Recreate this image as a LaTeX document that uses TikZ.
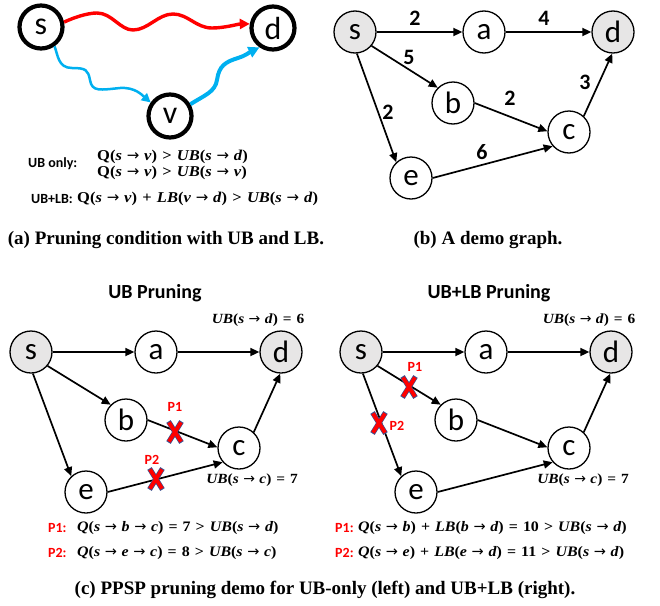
\documentclass[tikz,border=0pt]{standalone}
\usepackage{fontspec}
\setmainfont{Liberation Serif}
\newfontfamily\carl{Carlito}
\newfontfamily\djv{DejaVu Sans}
\newfontfamily\mfont[FakeStretch=1.1]{Liberation Serif}
\usetikzlibrary{arrows.meta}
\definecolor{gfill}{HTML}{E7E6E6}
\definecolor{wred}{HTML}{FF0000}
\definecolor{wblue}{HTML}{00B0F0}
\definecolor{xblue}{HTML}{3A4F8F}
\newcommand\mv[1]{\textit{#1}}
\newcommand\pto{\hspace{0.32em}{\djv\mdseries\char"2192}\hspace{0.32em}}
\newcommand\rel[1]{\hspace{0.35em}#1\hspace{0.35em}}
\begin{document}
\begin{tikzpicture}[x=1pt,y=-1pt,
  vnode/.style={circle,draw,line width=1.3pt,minimum size=42pt,inner sep=0pt,font=\carl\fontsize{31}{31}\selectfont},
  src/.style={vnode,fill=gfill},
  bignode/.style={circle,draw,line width=4.2pt,minimum size=43pt,inner sep=0pt,font=\carl\fontsize{32}{32}\selectfont},
  arr/.style={-{Triangle[length=9pt,width=8pt]},line width=1.7pt},
  wlabel/.style={font=\carl\bfseries\fontsize{22}{22}\selectfont},
  ptitle/.style={font=\carl\bfseries\fontsize{20}{20}\selectfont},
  plabel/.style={text=wred,font=\carl\bfseries\fontsize{14}{14}\selectfont,inner sep=0pt},
  ublbl/.style={font=\mfont\bfseries\fontsize{14}{16}\selectfont,inner sep=0pt},
  condlbl/.style={font=\carl\bfseries\fontsize{14}{14}\selectfont,inner sep=0pt},
  condmath/.style={font=\mfont\bfseries\fontsize{15}{17}\selectfont,inner sep=0pt},
  botmath/.style={font=\mfont\bfseries\fontsize{14.5}{16}\selectfont,inner sep=0pt},
  captxt/.style={font=\bfseries\fontsize{19}{21}\selectfont,inner sep=0pt},
  crossx/.pic={
    \draw[line width=5.2pt,xblue] (-6.5,-10.5)--(6.5,10.5) (6.5,-10.5)--(-6.5,10.5);
    \draw[line width=3.8pt,wred] (-6,-9.6)--(6,9.6) (6,-9.6)--(-6,9.6);
  }]
\useasboundingbox (0,0) rectangle (660,605);

% ---------- (a) ----------
\node[bignode] (as) at (41,27) {s};
\node[bignode] (ad) at (273,28) {d};
\node[bignode] (av) at (170,116) {v};
\draw[wred,line width=3.4pt,-{Triangle[length=10pt,width=10pt]}]
  (as.12) .. controls (75,17) and (88,13) .. (97,13)
  .. controls (112,13) and (120,30) .. (133,30)
  .. controls (148,30) and (158,14) .. (173,14)
  .. controls (188,14) and (196,28) .. (212,28)
  .. controls (225,28) and (238,24) .. (ad.170);
\draw[wblue,line width=2.5pt,-{Triangle[length=9pt,width=9pt]}]
  (as.-55) .. controls (58,55) and (58,68) .. (72,68)
  .. controls (86,68) and (88,70) .. (90,80)
  .. controls (92,92) and (100,90) .. (120,88)
  .. controls (135,87) and (142,95) .. (av.145);
\draw[wblue,line width=4pt,-{Triangle[length=11pt,width=11pt]}]
  (av.30) .. controls (205,95) and (215,92) .. (217,80)
  .. controls (219,66) and (225,62) .. (238,58)
  .. controls (245,56) and (250,52) .. (ad.-125);
\node[condlbl,anchor=west] (uo) at (28,164) {UB only:};
\node[condmath,anchor=west] (c1) at (97,157) {Q(\mv{s}\pto\mv{v})\rel{>}\mv{UB}(\mv{s}\pto\mv{d})};
\node[condmath,anchor=west] (c2) at (97,173) {Q(\mv{s}\pto\mv{v})\rel{>}\mv{UB}(\mv{s}\pto\mv{v})};
\node[condlbl,anchor=west] (ul) at (31,199) {UB+LB:};
\node[condmath,anchor=west] (c3) at (77,199) {Q(\mv{s}\pto\mv{v})\rel{+}\mv{LB}(\mv{v}\pto\mv{d})\rel{>}\mv{UB}(\mv{s}\pto\mv{d})};
\node[captxt] (capa) at (166,240) {(a) Pruning condition with UB and LB.};

% ---------- (b) ----------
\node[src] (bs) at (355,32) {s};
\node[vnode] (ba) at (484,32) {a};
\node[src] (bd) at (613,32) {d};
\node[vnode] (bb) at (453,103) {b};
\node[vnode] (bc) at (569,132) {c};
\node[vnode] (be) at (411,178) {e};
\draw[arr] (bs) -- (ba);
\draw[arr] (ba) -- (bd);
\draw[arr] (bs.-40) -- (bb.135);
\draw[arr] (bs.-85) -- (be.133);
\draw[arr] (bb.0) -- (bc.178);
\draw[arr] (be.0) -- (bc.221);
\draw[arr] (bc.47) -- (bd.-92);
\node[wlabel] (w1) at (415,18) {2};
\node[wlabel] (w2) at (544,18) {4};
\node[wlabel] (w3) at (409,57) {5};
\node[wlabel] (w4) at (510,98) {2};
\node[wlabel] (w5) at (585,82) {3};
\node[wlabel] (w6) at (388,112) {2};
\node[wlabel] (w7) at (482,152) {6};
\node[captxt] (capb) at (488,240) {(b) A demo graph.};

% ---------- (c) left ----------
\node[ptitle] (tl) at (155,293) {UB Pruning};
\node[src] (ls) at (31,352) {s};
\node[vnode] (la) at (156,352) {a};
\node[src] (ld) at (281,352) {d};
\node[vnode] (lb) at (126,420) {b};
\node[vnode] (lc) at (239,448) {c};
\node[vnode] (le) at (86,492) {e};
\draw[arr] (ls) -- (la);
\draw[arr] (la) -- (ld);
\draw[arr] (ls.-40) -- (lb.135);
\draw[arr] (ls.-85) -- (le.133);
\draw[arr] (lb.0) -- (lc.178);
\draw[arr] (le.0) -- (lc.221);
\draw[arr] (lc.47) -- (ld.-92);
\node[ublbl] (lu1) at (258,320) {\mv{UB}(\mv{s}\pto\mv{d})\rel{=}6};
\node[ublbl] (lu2) at (252,480) {\mv{UB}(\mv{s}\pto\mv{c})\rel{=}7};
\node[plabel] (lp1) at (175,407) {P1};
\pic at (175,432) {crossx};
\node[plabel] (lp2) at (152,460) {P2};
\pic at (156,479) {crossx};

% ---------- (c) right ----------
\node[ptitle] (tr) at (489,293) {UB+LB Pruning};
\node[src] (rs) at (361,352) {s};
\node[vnode] (ra) at (486,352) {a};
\node[src] (rd) at (611,352) {d};
\node[vnode] (rb) at (456,420) {b};
\node[vnode] (rc) at (569,448) {c};
\node[vnode] (re) at (416,492) {e};
\draw[arr] (rs) -- (ra);
\draw[arr] (ra) -- (rd);
\draw[arr] (rs.-40) -- (rb.135);
\draw[arr] (rs.-85) -- (re.133);
\draw[arr] (rb.0) -- (rc.178);
\draw[arr] (re.0) -- (rc.221);
\draw[arr] (rc.47) -- (rd.-92);
\node[ublbl] (ru1) at (589,320) {\mv{UB}(\mv{s}\pto\mv{d})\rel{=}6};
\node[ublbl] (ru2) at (583,480) {\mv{UB}(\mv{s}\pto\mv{c})\rel{=}7};
\pic at (409,387) {crossx};
\node[plabel] (rp1) at (415,367) {P1};
\pic at (379,423) {crossx};
\node[plabel] (rp2) at (397,426) {P2};

% ---------- bottom formulas ----------
\node[plabel,anchor=west] (f1l) at (48,528) {P1:};
\node[botmath,anchor=west] (f1) at (77,528) {\mv{Q}(\mv{s}\pto\mv{b}\pto\mv{c})\rel{=}7\rel{>}\mv{UB}(\mv{s}\pto\mv{d})};
\node[plabel,anchor=west] (f2l) at (48,553) {P2:};
\node[botmath,anchor=west] (f2) at (77,553) {\mv{Q}(\mv{s}\pto\mv{e}\pto\mv{c})\rel{=}8\rel{>}\mv{UB}(\mv{s}\pto\mv{c})};
\node[plabel,anchor=west] (f3l) at (335,528) {P1:};
\node[botmath,anchor=west] (f3) at (358,528) {\mv{Q}(\mv{s}\pto\mv{b})\rel{+}\mv{LB}(\mv{b}\pto\mv{d})\rel{=}10\rel{>}\mv{UB}(\mv{s}\pto\mv{d})};
\node[plabel,anchor=west] (f4l) at (335,553) {P2:};
\node[botmath,anchor=west] (f4) at (358,553) {\mv{Q}(\mv{s}\pto\mv{e})\rel{+}\mv{LB}(\mv{e}\pto\mv{d})\rel{=}11\rel{>}\mv{UB}(\mv{s}\pto\mv{d})};
\node[captxt] (capc) at (325,590) {(c) PPSP pruning demo for UB-only (left) and UB+LB (right).};
\end{tikzpicture}
\end{document}
